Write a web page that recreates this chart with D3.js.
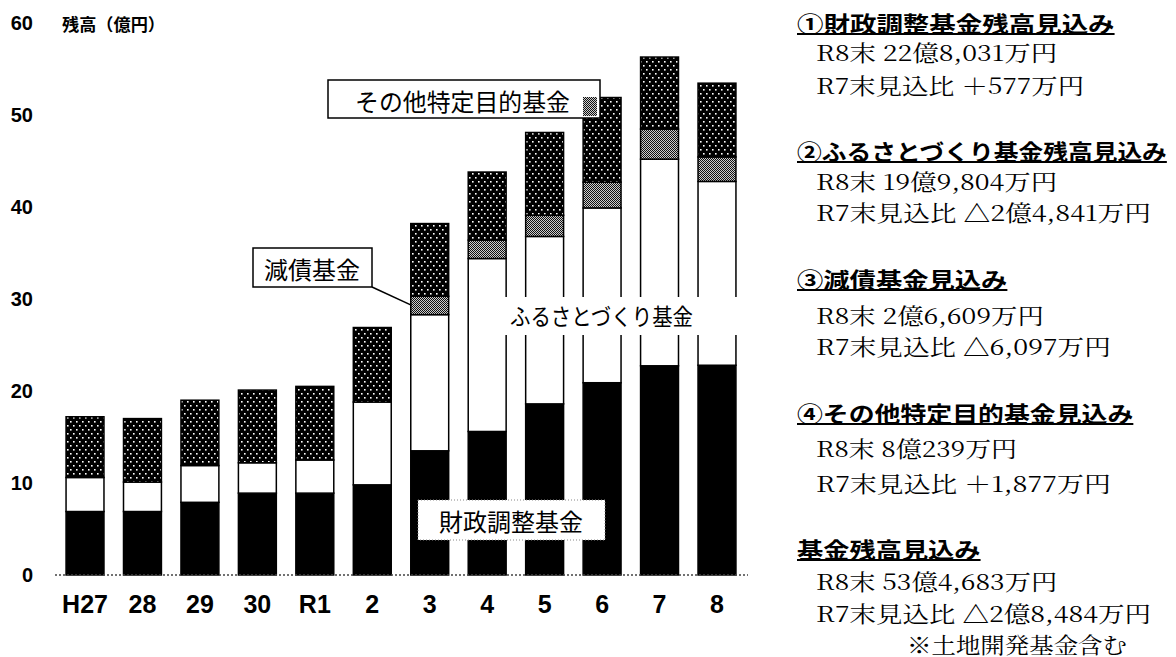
<!DOCTYPE html>
<meta charset="utf-8">
<style>
    body { margin: 0; background: #fff; }
    svg { display: block; }
    .ylab text { font: bold 20px "Liberation Sans", Arial, sans-serif; fill: #000; }
    .xlab text { font: bold 25px "Liberation Sans Narrow", "Liberation Sans", Arial, sans-serif; fill: #000; }
    .cjk { font-family: "Noto Sans CJK JP", sans-serif; fill: #000; }
    .note-head { font-family: "Noto Sans CJK JP", sans-serif; font-weight: bold; font-size: 22px; }
    .note-body { font-family: "Noto Serif CJK JP", "Liberation Serif", "Noto Sans CJK JP", serif; font-size: 22px; }
</style>
<svg width="1176" height="657"></svg>
<script src="https://cdn.jsdelivr.net/npm/d3@7/dist/d3.min.js"></script>
<script>

    // 年度
    var years = ["H27", "28", "29", "30", "R1", "2", "3", "4", "5", "6", "7", "8"];

    // 残高（億円）
    var zaisei   = [6.9, 6.9, 7.9, 8.9, 8.9, 9.8, 13.5, 15.6, 18.6, 20.9, 22.74, 22.80];  // 財政調整基金
    var furusato = [3.7, 3.2, 4.0, 3.3, 3.6, 9.0, 14.8, 18.8, 18.2, 19.0, 22.46, 19.98]; // ふるさとづくり基金
    var gensai   = [0, 0, 0, 0, 0, 0, 2.0, 2.0, 2.3, 2.8, 3.27, 2.66];                     // 減債基金
    var sonota   = [6.6, 6.9, 7.1, 7.9, 8.0, 8.1, 7.9, 7.4, 9.0, 9.2, 7.83, 8.02];         // その他特定目的基金

    var yTicks = [0, 10, 20, 30, 40, 50, 60];

    var noteHeads = ["①財政調整基金残高見込み", "②ふるさとづくり基金残高見込み", "③減債基金見込み",
        "④その他特定目的基金見込み", "基金残高見込み"];
    var noteR8 = ["R8末 22億8,031万円", "R8末 19億9,804万円", "R8末 2億6,609万円",
        "R8末 8億239万円", "R8末 53億4,683万円"];
    var noteR7 = ["R7末見込比 ＋577万円", "R7末見込比 △2億4,841万円", "R7末見込比 △6,097万円",
        "R7末見込比 ＋1,877万円", "R7末見込比 △2億8,484万円"];
    var noteFoot = "※土地開発基金含む";

    var keys = ["zaisei", "furusato", "gensai", "sonota"];
    var table = years.map(function (yr, i) {
        return {year: yr, zaisei: zaisei[i], furusato: furusato[i], gensai: gensai[i], sonota: sonota[i]};
    });

    var svg = d3.select("svg");

    // patterns
    var defs = svg.append("defs");
    var dots = defs.append("pattern").attr("id", "dots")
        .attr("patternUnits", "userSpaceOnUse").attr("width", 6).attr("height", 8);
    dots.append("rect").attr("width", 6).attr("height", 8).attr("fill", "#000");
    dots.append("rect").attr("x", 1).attr("y", 1).attr("width", 1.6).attr("height", 1.6).attr("fill", "#fff");
    dots.append("rect").attr("x", 4).attr("y", 5).attr("width", 1.6).attr("height", 1.6).attr("fill", "#fff");

    var gray = defs.append("pattern").attr("id", "gray")
        .attr("patternUnits", "userSpaceOnUse").attr("width", 2).attr("height", 2);
    gray.append("rect").attr("width", 2).attr("height", 2).attr("fill", "#ccc");
    gray.append("rect").attr("width", 1).attr("height", 1).attr("fill", "#111");
    gray.append("rect").attr("x", 1).attr("y", 1).attr("width", 1).attr("height", 1).attr("fill", "#111");

    var fills = {zaisei: "#000", furusato: "#fff", gensai: "url(#gray)", sonota: "url(#dots)"};

    var x = d3.scaleBand().domain(years).range([56, 746]).paddingInner(0.34).paddingOuter(0.175);
    var y = d3.scaleLinear().domain([0, 60]).range([575, 23]);

    var stack = d3.stack().keys(keys)(table);

    // bars
    svg.append("g").selectAll("g")
        .data(stack).enter().append("g")
        .attr("fill", function (d) { return fills[d.key]; })
        .selectAll("rect")
        .data(function (d) { return d.filter(function (p) { return p[1] - p[0] > 0; }); })
        .enter().append("rect")
        .attr("x", function (d) { return x(d.data.year); })
        .attr("y", function (d) { return y(d[1]); })
        .attr("width", x.bandwidth())
        .attr("height", function (d) { return y(d[0]) - y(d[1]); })
        .attr("stroke", "#000")
        .attr("stroke-width", 1.5);

    // dotted baseline
    svg.append("line")
        .attr("x1", 55).attr("x2", 748)
        .attr("y1", y(0)).attr("y2", y(0))
        .attr("stroke", "#444").attr("stroke-width", 1.5)
        .attr("stroke-dasharray", "2,2");

    // axes
    var yAxis = svg.append("g").attr("class", "ylab")
        .attr("transform", "translate(33,0)")
        .call(d3.axisLeft(y).tickValues(yTicks).tickSize(0).tickPadding(0));
    yAxis.select(".domain").remove();

    var xAxis = svg.append("g").attr("class", "xlab")
        .attr("transform", "translate(0," + y(0) + ")")
        .call(d3.axisBottom(x).tickSize(0).tickPadding(20));
    xAxis.select(".domain").remove();

    svg.append("text").attr("class", "cjk")
        .attr("x", 62).attr("y", y(60))
        .attr("dominant-baseline", "central")
        .attr("textLength", 103).attr("lengthAdjust", "spacingAndGlyphs")
        .style("font-size", "17px").style("font-weight", "bold")
        .text("残高（億円）");

    // labels inside the chart
    var fLabel = svg.append("g");
    fLabel.append("rect").attr("x", 470).attr("y", 297).attr("width", 270).attr("height", 38).attr("fill", "#fff");
    fLabel.append("text").attr("class", "cjk")
        .attr("x", 510).attr("y", 315).attr("dominant-baseline", "central")
        .attr("textLength", 183).attr("lengthAdjust", "spacingAndGlyphs")
        .style("font-size", "23px")
        .text("ふるさとづくり基金");

    var zLabel = svg.append("g");
    zLabel.append("rect").attr("x", 418).attr("y", 500).attr("width", 187).attr("height", 40)
        .attr("fill", "#fff").attr("stroke", "#888").attr("stroke-width", 1).attr("stroke-dasharray", "1,2");
    zLabel.append("text").attr("class", "cjk")
        .attr("x", 511).attr("y", 520).attr("dominant-baseline", "central").attr("text-anchor", "middle")
        .style("font-size", "24px")
        .text("財政調整基金");

    // 減債基金 callout
    var b3 = x("3"), g3 = stack[2][6];
    svg.append("line")
        .attr("x1", 372).attr("y1", 287)
        .attr("x2", b3 + 1).attr("y2", y((g3[0] + g3[1]) / 2))
        .attr("stroke", "#000").attr("stroke-width", 1.5);
    svg.append("rect").attr("x", 253).attr("y", 248).attr("width", 119).attr("height", 39)
        .attr("fill", "#fff").attr("stroke", "#000").attr("stroke-width", 1.5);
    svg.append("text").attr("class", "cjk")
        .attr("x", 312).attr("y", 268).attr("dominant-baseline", "central").attr("text-anchor", "middle")
        .style("font-size", "24px")
        .text("減債基金");

    // その他特定目的基金 callout
    svg.append("rect").attr("x", 328).attr("y", 80).attr("width", 272).attr("height", 38)
        .attr("fill", "#fff").attr("stroke", "#000").attr("stroke-width", 1.5);
    svg.append("text").attr("class", "cjk")
        .attr("x", 355).attr("y", 100).attr("dominant-baseline", "central")
        .attr("textLength", 215).attr("lengthAdjust", "spacingAndGlyphs")
        .style("font-size", "24px")
        .text("その他特定目的基金");
    svg.append("rect").attr("x", 583).attr("y", 97).attr("width", 14).attr("height", 19)
        .attr("fill", "url(#gray)");

    // notes on the right
    var em = 26.8;
    function textLen(s) {
        var w = 0;
        for (var i = 0; i < s.length; i++) {
            var c = s.charCodeAt(i);
            if (c < 0x2000) w += 0.5;
            else if (c >= 0x3040 && c <= 0x309f) w += 0.85;
            else w += 1;
        }
        return w * em;
    }

    var headY = [22, 150, 278, 412, 548],
        r8Y = [51, 180, 314, 447, 580],
        r7Y = [84, 211, 345, 482, 612];

    var notes = svg.append("g");
    noteHeads.forEach(function (h, i) {
        var len = textLen(h);
        notes.append("text").attr("class", "note-head")
            .attr("x", 797).attr("y", headY[i]).attr("dominant-baseline", "central")
            .attr("textLength", len).attr("lengthAdjust", "spacingAndGlyphs")
            .text(h);
        notes.append("line")
            .attr("x1", 797).attr("x2", 797 + len)
            .attr("y1", headY[i] + 12).attr("y2", headY[i] + 12)
            .attr("stroke", "#000").attr("stroke-width", 2);
        [[noteR8[i], r8Y[i]], [noteR7[i], r7Y[i]]].forEach(function (l) {
            notes.append("text").attr("class", "note-body")
                .attr("x", 816).attr("y", l[1]).attr("dominant-baseline", "central")
                .attr("textLength", textLen(l[0])).attr("lengthAdjust", "spacingAndGlyphs")
                .text(l[0]);
        });
    });
    notes.append("text").attr("class", "note-body")
        .attr("x", 907).attr("y", 643).attr("dominant-baseline", "central")
        .attr("textLength", 220).attr("lengthAdjust", "spacingAndGlyphs")
        .text(noteFoot);

</script>
